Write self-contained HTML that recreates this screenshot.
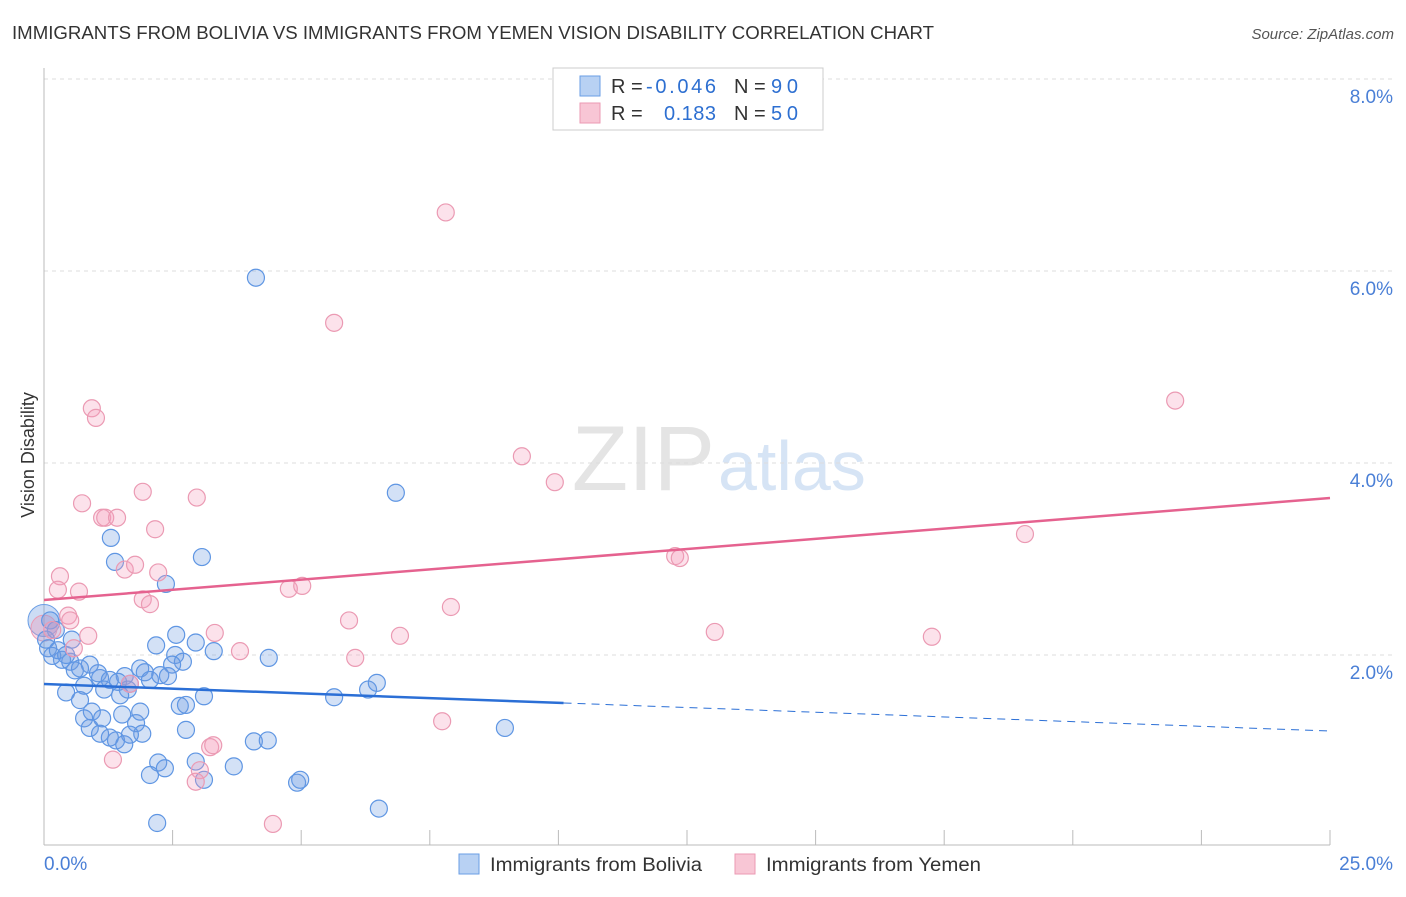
<!DOCTYPE html>
<html><head><meta charset="utf-8"><style>
body{margin:0;background:#fff;font-family:"Liberation Sans",sans-serif}
svg text{font-family:"Liberation Sans",sans-serif}
</style></head><body>
<svg id="chart" width="1406" height="892">
<text x="12" y="39" font-size="18" fill="#333" textLength="922" lengthAdjust="spacingAndGlyphs">IMMIGRANTS FROM BOLIVIA VS IMMIGRANTS FROM YEMEN VISION DISABILITY CORRELATION CHART</text>
<text x="1394" y="39" font-size="15" fill="#555" font-style="italic" text-anchor="end">Source: ZipAtlas.com</text>
<text x="715" y="490" font-size="92" fill="#e4e4e4" text-anchor="end" font-family="Liberation Serif">ZIP</text>
<text x="718" y="490" font-size="70" fill="#d6e4f5">atlas</text>
<text x="34" y="455" font-size="18" fill="#333" text-anchor="middle" transform="rotate(-90 34 455)">Vision Disability</text>
<g id="grid"></g><g id="marks"></g><g id="trend"></g>
<g>
<rect x="553" y="68" width="270" height="62" fill="#fff" stroke="#ccc"/>
<rect x="580" y="76" width="20" height="20" fill="#b8d1f3" stroke="#6a9ee5"/>
<rect x="580" y="103" width="20" height="20" fill="#f8c6d5" stroke="#eb9ab3"/>
<text x="611" y="93" font-size="20" fill="#333">R = <tspan fill="#2d6fd1" x="646" textLength="70">-0.046</tspan></text>
<text x="734" y="93" font-size="20" fill="#333">N = <tspan fill="#2d6fd1" x="771" textLength="27">90</tspan></text>
<text x="611" y="120" font-size="20" fill="#333">R = <tspan fill="#2d6fd1" x="664" textLength="52">0.183</tspan></text>
<text x="734" y="120" font-size="20" fill="#333">N = <tspan fill="#2d6fd1" x="771" textLength="27">50</tspan></text>
</g>
<g>
<rect x="459" y="854" width="20" height="20" fill="#b8d1f3" stroke="#6a9ee5"/>
<text x="490" y="871" font-size="19" fill="#333" textLength="212" lengthAdjust="spacingAndGlyphs">Immigrants from Bolivia</text>
<rect x="735" y="854" width="20" height="20" fill="#f8c6d5" stroke="#eb9ab3"/>
<text x="766" y="871" font-size="19" fill="#333" textLength="215" lengthAdjust="spacingAndGlyphs">Immigrants from Yemen</text>
</g>
</svg>
<script>
const yTicks=[2,4,6,8];
const xTickLabels=["0.0%","25.0%"];
const boliviaX=[4.12,6.84,1.30,1.38,3.07,2.37,2.18,2.57,2.95,3.30,4.37,2.55,2.70,2.49,1.87,1.57,1.05,0.89,0.35,0.08,0.16,0.51,0.60,0.43,0.70,0.78,1.09,1.28,1.44,1.67,1.96,2.06,2.26,2.41,1.63,1.48,0.93,0.78,1.13,0.89,1.09,1.40,1.56,1.52,1.79,1.91,1.67,1.28,2.22,2.06,2.35,2.76,2.64,2.76,3.11,2.95,3.11,3.69,4.08,4.35,4.92,4.98,2.20,6.51,5.64,6.30,6.47,8.96,0.12,0.23,0.04,0.27,0.43,0.54,0.70,1.87,1.17];
const boliviaY=[5.93,3.69,3.22,2.97,3.02,2.74,2.10,2.21,2.13,2.04,1.97,2.00,1.93,1.90,1.86,1.78,1.81,1.90,1.95,2.07,1.99,1.93,1.84,1.61,1.53,1.68,1.76,1.74,1.72,1.70,1.82,1.74,1.79,1.78,1.64,1.58,1.41,1.34,1.34,1.24,1.18,1.11,1.07,1.38,1.29,1.18,1.17,1.14,0.88,0.75,0.82,1.22,1.47,1.48,1.57,0.89,0.70,0.84,1.10,1.11,0.67,0.70,0.25,0.40,1.56,1.64,1.71,1.24,2.36,2.26,2.16,2.05,2.00,2.16,1.86,1.41,1.64];
const yemenX=[7.81,5.64,0.93,1.01,21.99,9.29,9.93,0.74,1.92,2.97,1.13,1.19,1.42,2.16,0.31,0.27,0.68,1.57,1.77,2.22,1.92,2.06,4.76,5.02,7.91,5.93,0.47,0.51,0.86,0.16,0.58,3.32,3.81,6.05,6.92,12.27,12.36,19.07,13.04,17.26,7.74,1.34,3.23,3.29,3.03,2.95,4.45,1.67];
const yemenY=[6.61,5.46,4.57,4.47,4.65,4.07,3.80,3.58,3.70,3.64,3.43,3.43,3.43,3.31,2.82,2.68,2.66,2.89,2.94,2.86,2.58,2.53,2.69,2.72,2.50,2.36,2.41,2.36,2.20,2.26,2.07,2.23,2.04,1.97,2.20,3.03,3.01,3.26,2.24,2.19,1.31,0.91,1.04,1.06,0.80,0.68,0.24,1.70];
const boliviaTrend=[1.698,1.208];
const yemenTrend=[2.573,3.635];
const NS="http://www.w3.org/2000/svg";
const X=v=>44+v/25*1286, Y=v=>847-v*96;
function mk(t,a,p){const e=document.createElementNS(NS,t);for(const k in a)e.setAttribute(k,a[k]);p.appendChild(e);return e;}
const grid=document.getElementById('grid');
yTicks.forEach(t=>{
 const l=mk('line',{x1:44,x2:1392,y1:Y(t),y2:Y(t),stroke:'#ddd','stroke-dasharray':'4,4'},grid);
 
 
 const tx=mk('text',{x:1393,y:Y(t)+24,'font-size':19,fill:'#4a7fd6','text-anchor':'end'},grid);
 tx.textContent=t.toFixed(1)+'%';
 
 
});
mk('line',{x1:44,x2:44,y1:68,y2:845,stroke:'#bbb'},grid);
mk('line',{x1:44,x2:1330,y1:845,y2:845,stroke:'#bbb'},grid);
for(let i=1;i<=10;i++){const x=X(i*2.5);mk('line',{x1:x,x2:x,y1:830,y2:845,stroke:'#bbb'},grid);}
[[xTickLabels[0],44,'start'],[xTickLabels[1],1393,'end']].forEach(([s,x,a])=>{
 const t=mk('text',{x:x,y:870,'font-size':19,fill:'#4a7fd6','text-anchor':a},grid);t.textContent=s;
 
 
});
const marks=document.getElementById('marks');
const big1=mk('circle',{cx:X(0),cy:Y(2.36),r:16,fill:'rgba(110,155,225,0.35)',stroke:'#6a9ee5'},marks);


const big2=mk('circle',{cx:X(0),cy:Y(2.28),r:13,fill:'rgba(240,150,180,0.35)',stroke:'#eb9ab3'},marks);


boliviaX.forEach((v,i)=>{
 const c=mk('circle',{cx:X(v),cy:Y(boliviaY[i]),r:8.5,fill:'rgba(110,155,225,0.3)',stroke:'#5f96e3','stroke-width':1.2},marks);
 
 
});
yemenX.forEach((v,i)=>{
 const c=mk('circle',{cx:X(v),cy:Y(yemenY[i]),r:8.5,fill:'rgba(245,160,190,0.3)',stroke:'#eb9ab3','stroke-width':1.2},marks);
 
 
});
const tr=document.getElementById('trend');
const bAt=v=>boliviaTrend[0]+(boliviaTrend[1]-boliviaTrend[0])*v/25;
const b1=mk('line',{x1:X(0),y1:Y(bAt(0)),x2:X(10.1),y2:Y(bAt(10.1)),stroke:'#2b6fd6','stroke-width':2.5},tr);


const b2=mk('line',{x1:X(10.1),y1:Y(bAt(10.1)),x2:X(25),y2:Y(bAt(25)),stroke:'#2b6fd6','stroke-width':1,'stroke-dasharray':'8,6'},tr);


const p1=mk('line',{x1:X(0),y1:Y(yemenTrend[0]),x2:X(25),y2:Y(yemenTrend[1]),stroke:'#e5628f','stroke-width':2.5},tr);


</script>
</body></html>
